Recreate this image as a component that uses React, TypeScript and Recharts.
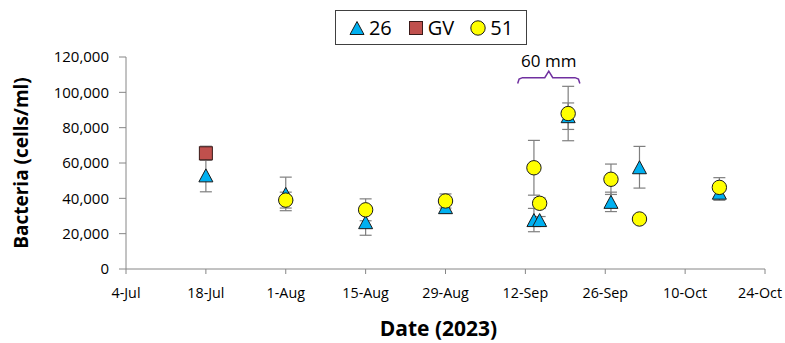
import React from 'react'
import {
  ErrorBar,
  Label,
  ReferenceDot,
  Scatter,
  ScatterChart,
  XAxis,
  YAxis,
} from 'recharts'

// x values are days counted from 4 July 2023
const xTicks = [0, 14, 28, 42, 56, 70, 84, 98, 112]
const xTickLabels = ['4-Jul', '18-Jul', '1-Aug', '15-Aug', '29-Aug', '12-Sep', '26-Sep', '10-Oct', '24-Oct']
const yTicks = [0, 20000, 40000, 60000, 80000, 100000, 120000]

const days26 = [14, 28, 42, 56, 71.5, 72.5, 77.5, 85, 90, 104]
const cells26 = [53000, 42500, 26500, 35000, 27700, 27700, 86500, 38000, 57600, 43200]
const err26 = [9300, 9500, 7400, 3500, 6600, 2000, 7500, 5500, 11800, 4300]

const daysGV = [14]
const cellsGV = [65500]
const errGV = [4000]

const days51 = [28, 42, 56, 71.5, 72.5, 77.5, 85, 90, 104]
const cells51 = [39000, 33500, 38500, 57300, 37200, 88000, 50800, 28300, 46200]
const err51 = [4500, 6200, 4000, 15500, 3000, 15400, 8600, 1000, 5500]

// brace over the 60 mm sampling window
const braceDays = [68.65, 68.9, 69.5, 73.4, 74.1, 74.8, 78.7, 79.3, 79.55]
const braceCells = [105000, 107500, 108300, 108300, 112000, 108300, 108300, 107500, 105000]
const braceLabel = '60 mm'
const braceLabelAt = { x: 74.1, y: 118300 }

const FONT = '"Open Sans", sans-serif'
const CHART_W = 785

const toPoints = (xs: number[], ys: number[], errs?: number[]) =>
  xs.map((x, i) => ({ x, y: ys[i], err: errs ? errs[i] : 0 }))

const data26 = toPoints(days26, cells26, err26)
const dataGV = toPoints(daysGV, cellsGV, errGV)
const data51 = toPoints(days51, cells51, err51)
const braceData = toPoints(braceDays, braceCells)

const Triangle = ({ cx, cy }: any) => (
  <path
    d={`M${cx},${cy - 6.5} L${cx + 7},${cy + 6.5} L${cx - 7},${cy + 6.5} Z`}
    fill="#00B0F0"
    stroke="#1a1a1a"
    strokeWidth={1}
  />
)

const Square = ({ cx, cy }: any) => (
  <rect x={cx - 6.5} y={cy - 6.5} width={13} height={13} fill="#C0504D" stroke="#3a1a19" strokeWidth={1} />
)

const Circle = ({ cx, cy }: any) => (
  <circle cx={cx} cy={cy} r={7.2} fill="#FFFF00" stroke="#1a1a1a" strokeWidth={1} />
)

// date tick; the last label is pulled in so it stays inside the svg
const DateTick = ({ x, y, payload }: any) => {
  const text = xTickLabels[xTicks.indexOf(payload.value)] ?? ''
  const half = 23
  const cx = Math.min(x, CHART_W - 2 - half)
  return (
    <text x={cx} y={y} dy="0.71em" textAnchor="middle" fontFamily={FONT} fontSize={14.3} fill="#000">
      {text}
    </text>
  )
}

function LegendBox() {
  const item: React.CSSProperties = { display: 'flex', alignItems: 'center', gap: 4 }
  return (
    <div
      style={{
        position: 'absolute',
        left: 335,
        top: 10,
        width: 190,
        height: 33,
        border: '1px solid #404040',
        display: 'flex',
        alignItems: 'center',
        justifyContent: 'center',
        gap: 16,
        fontFamily: FONT,
        fontSize: 20,
        color: '#000',
        background: '#fff',
      }}
    >
      <span style={item}>
        <svg width={16} height={16}>
          <Triangle cx={8} cy={8} />
        </svg>
        26
      </span>
      <span style={item}>
        <svg width={16} height={16}>
          <Square cx={8} cy={8} />
        </svg>
        GV
      </span>
      <span style={item}>
        <svg width={16} height={16}>
          <Circle cx={8} cy={8} />
        </svg>
        51
      </span>
    </div>
  )
}

export default function App() {
  const errorStyle = { stroke: '#7f7f7f', strokeWidth: 1.2, width: 6 }
  return (
    <div style={{ position: 'absolute', left: 0, top: 0, width: CHART_W, height: 343, background: '#fff' }}>
      <ScatterChart width={CHART_W} height={343} margin={{ top: 57, right: 20, bottom: 0, left: 1 }}>
        <XAxis
          type="number"
          dataKey="x"
          domain={[0, 112]}
          ticks={xTicks}
          tick={DateTick}
          height={74}
          tickSize={5}
          tickMargin={14}
          stroke="#868686"
          interval={0}
        >
          <Label
            value="Date (2023)"
            position="insideBottom"
            offset={7}
            dx={-7}
            style={{ fontFamily: FONT, fontSize: 21, fontWeight: 700, fill: '#000' }}
          />
        </XAxis>
        <YAxis
          type="number"
          dataKey="y"
          domain={[0, 120000]}
          ticks={yTicks}
          tickFormatter={(v: number) => v.toLocaleString('en-US')}
          width={125}
          tickSize={7}
          tickMargin={10}
          stroke="#868686"
          tick={{ fill: '#000', fontFamily: FONT, fontSize: 15 }}
          interval={0}
        >
          <Label
            value="Bacteria (cells/ml)"
            angle={-90}
            position="insideLeft"
            offset={20}
            style={{ textAnchor: 'middle', fontFamily: FONT, fontSize: 19, fontWeight: 700, fill: '#000' }}
          />
        </YAxis>

        <Scatter name="26" data={data26} shape={Triangle} isAnimationActive={false}>
          <ErrorBar dataKey="err" direction="y" {...errorStyle} />
        </Scatter>
        <Scatter name="GV" data={dataGV} shape={Square} isAnimationActive={false}>
          <ErrorBar dataKey="err" direction="y" {...errorStyle} />
        </Scatter>
        <Scatter name="51" data={data51} shape={Circle} isAnimationActive={false}>
          <ErrorBar dataKey="err" direction="y" {...errorStyle} />
        </Scatter>

        <Scatter
          data={braceData}
          line={{ stroke: '#7030A0', strokeWidth: 1.5 }}
          lineType="joint"
          shape={() => <g />}
          isAnimationActive={false}
        />
        <ReferenceDot
          x={braceLabelAt.x}
          y={braceLabelAt.y}
          shape={({ cx, cy }: any) => (
            <text x={cx} y={cy} textAnchor="middle" dominantBaseline="central" fontFamily={FONT} fontSize={17} fill="#000">
              {braceLabel}
            </text>
          )}
        />
      </ScatterChart>
      <LegendBox />
    </div>
  )
}
